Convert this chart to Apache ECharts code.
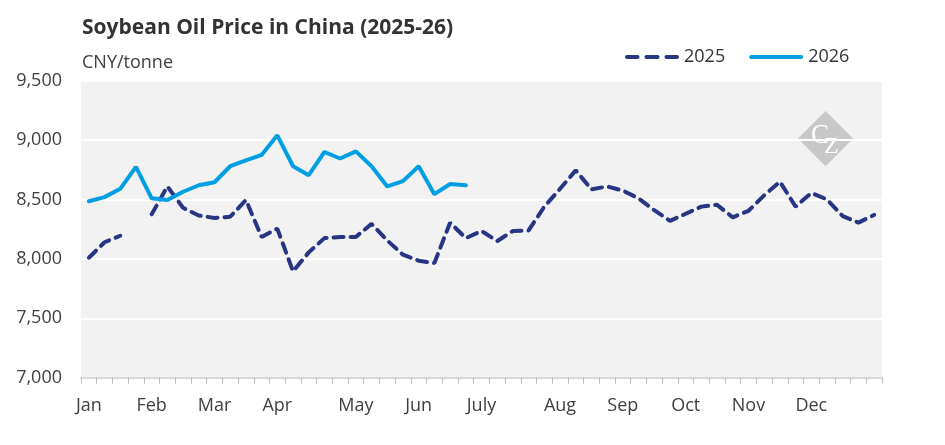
<!DOCTYPE html>
<html>
<head>
<meta charset="utf-8">
<script src="https://cdn.jsdelivr.net/npm/echarts@6/dist/echarts.min.js"></script>
<style>
  html, body { margin: 0; padding: 0; background: #fff; }
  #chart { width: 945px; height: 445px; }
</style>
</head>
<body>
<div id="chart"></div>
<script>
// weekly points, month label on the first week of each month
const monthLabels = { 0: 'Jan', 4: 'Feb', 8: 'Mar', 12: 'Apr', 17: 'May', 21: 'Jun', 25: 'July', 30: 'Aug', 34: 'Sep', 38: 'Oct', 42: 'Nov', 46: 'Dec' }
const weeks = Array.from({ length: 51 }, (_, i) => monthLabels[i] || '')

const price2025 = [
  8010, 8140, 8195, null, 8375, 8610, 8430, 8365, 8345, 8355,
  8495, 8185, 8255, 7895, 8055, 8175, 8185, 8185, 8295, 8155,
  8035, 7985, 7965, 8305, 8175, 8235, 8150, 8235, 8240, 8440,
  8590, 8745, 8585, 8610, 8575, 8510, 8410, 8320, 8380, 8440,
  8455, 8350, 8405, 8535, 8650, 8440, 8555, 8500, 8360, 8305,
  8370,
]

const price2026 = [
  8485, 8520, 8590, 8775, 8510, 8495, 8565, 8620, 8645, 8780,
  8830, 8875, 9040, 8780, 8705, 8900, 8845, 8905, 8780, 8610,
  8655, 8780, 8545, 8630, 8620,
]

const yTicks = { min: 7000, max: 9500, interval: 500 }

// legend icons: three rounded dashes / one rounded bar
const dashIcon = 'path://M2,0H12.5A2,2 0 0 1 12.5,4H2A2,2 0 0 1 2,0Z' +
  'M21.5,0H32.5A2,2 0 0 1 32.5,4H21.5A2,2 0 0 1 21.5,0Z' +
  'M41.5,0H52A2,2 0 0 1 52,4H41.5A2,2 0 0 1 41.5,0Z'
const solidIcon = 'path://M2,0H52A2,2 0 0 1 52,4H2A2,2 0 0 1 2,0Z'

const font = '"Open Sans", "Noto Sans", sans-serif'
const chart = echarts.init(document.getElementById('chart'))

chart.setOption({
  animation: false,
  textStyle: { fontFamily: font },
  title: [
    {
      text: 'Soybean Oil Price in China (2025-26)',
      left: 77,
      top: 13,
      textStyle: { fontSize: 21, fontWeight: 'bold', color: '#333333', fontFamily: font },
    },
    {
      text: 'CNY/tonne',
      left: 77,
      top: 49,
      textStyle: { fontSize: 18, fontWeight: 'normal', color: '#404040', fontFamily: font },
    },
  ],
  legend: {
    left: 620,
    top: 43,
    itemWidth: 54,
    itemHeight: 4,
    itemGap: 24,
    textStyle: { fontSize: 18, color: '#333333', fontFamily: font },
    data: [
      { name: '2025', icon: dashIcon },
      { name: '2026', icon: solidIcon },
    ],
  },
  grid: {
    left: 81,
    right: 63,
    top: 80.7,
    bottom: 67.3,
    show: true,
    backgroundColor: '#f2f2f2',
    borderWidth: 0,
  },
  xAxis: {
    type: 'category',
    data: weeks,
    boundaryGap: true,
    axisLine: { lineStyle: { color: '#d9d9d9', width: 2 } },
    axisTick: { show: true, interval: 0, length: 6, lineStyle: { color: '#bfbfbf' } },
    axisLabel: { interval: 0, fontSize: 18, color: '#404040', margin: 19, fontFamily: font },
    splitLine: { show: false },
  },
  yAxis: {
    type: 'value',
    min: yTicks.min,
    max: yTicks.max,
    interval: yTicks.interval,
    axisLine: { show: false },
    axisTick: { show: false },
    axisLabel: {
      fontSize: 18,
      color: '#404040',
      margin: 19,
      fontFamily: font,
      formatter: (v) => v.toLocaleString('en-US'),
    },
    splitLine: { lineStyle: { color: '#ffffff', width: 2 } },
  },
  series: [
    {
      name: '2025',
      type: 'line',
      data: price2025,
      symbol: 'none',
      connectNulls: false,
      lineStyle: { color: '#283583', width: 4, type: [10, 7], cap: 'round' },
      itemStyle: { color: '#283583' },
      z: 3,
    },
    {
      name: '2026',
      type: 'line',
      data: price2026,
      symbol: 'none',
      lineStyle: { color: '#009fe3', width: 4, cap: 'round' },
      itemStyle: { color: '#009fe3' },
      z: 4,
    },
  ],
  graphic: [
    {
      type: 'group',
      left: 798,
      top: 111,
      z: 10,
      children: [
        {
          type: 'rect',
          shape: { x: -19.5, y: -19.5, width: 39, height: 39 },
          x: 27.5,
          y: 27.5,
          rotation: Math.PI / 4,
          style: { fill: '#c8c8c8' },
        },
        {
          type: 'text',
          x: 13,
          y: 11,
          style: { text: 'C', fill: '#ffffff', font: '27px "Liberation Serif", serif' },
        },
        {
          type: 'text',
          x: 26,
          y: 24,
          style: { text: 'Z', fill: '#ffffff', font: '24px "Liberation Serif", serif' },
        },
      ],
    },
  ],
})
</script>
</body>
</html>
